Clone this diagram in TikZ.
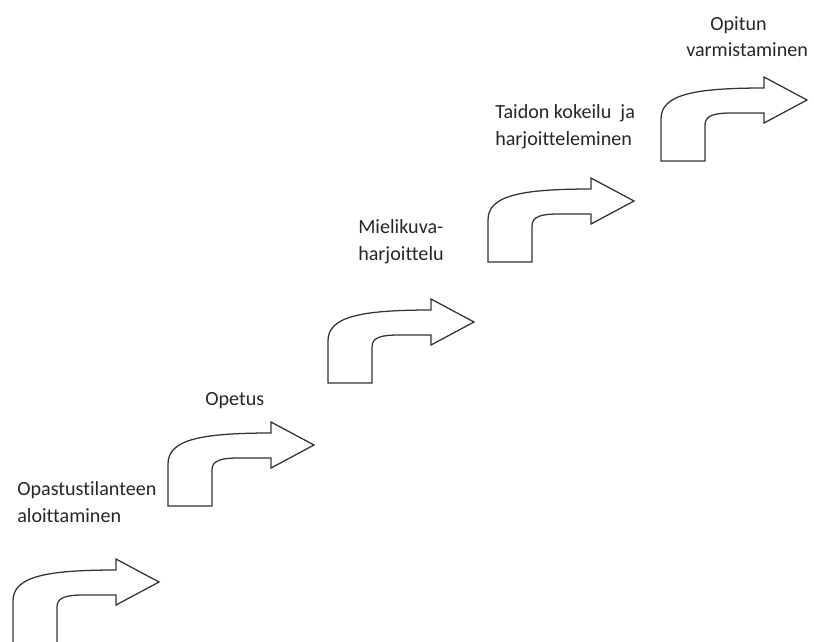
\documentclass[tikz,border=0pt]{standalone}
\usepackage{fontspec}
\setmainfont{Carlito}[Ligatures=NoCommon]
\usepackage{tikz}

\begin{document}
\begin{tikzpicture}[x=0.025cm,y=-0.025cm]
\tikzstyle{outline}=[draw=black!80, line width=0.9pt, line join=miter]
\tikzstyle{lbl}=[inner sep=0pt, anchor=base west, align=left, font=\fontsize{14.3}{19.2}\selectfont, text=black!85]
\tikzset{bentarrow/.pic={
  \draw [outline] (-102,61) -- (-102,25) .. controls (-102,15) and (-92,13) .. (-75,13) -- (-43,13)
    -- (-43,23) -- (0,0) -- (-43,-23) -- (-43,-12)
    .. controls (-115,-12) and (-146,-5) .. (-146,19) -- (-146,61) -- cycle;
}}
\clip (0,0) rectangle (814,641);
% arrows, placed by their tips
\pic (arr1) at (159,582) {bentarrow};
\pic (arr2) at (314,445) {bentarrow};
\pic (arr3) at (474,322) {bentarrow};
\pic (arr4) at (634,201) {bentarrow};
\pic (arr5) at (807,100) {bentarrow};
% labels
\node [lbl] (aloitus) at (17,522) {Opastustilanteen\\aloittaminen};
\node [lbl] (opetus) at (205,405) {Opetus};
\node [lbl] (mielikuva) at (358,260) {Mielikuva-\\harjoittelu};
\node [lbl] (kokeilu) at (495,145) {Taidon kokeilu\ \ ja\\harjoitteleminen};
\node [lbl] (opitun) at (710,30) {Opitun};
\node [lbl] (varmistus) at (686,56) {varmistaminen};
\end{tikzpicture}
\end{document}
